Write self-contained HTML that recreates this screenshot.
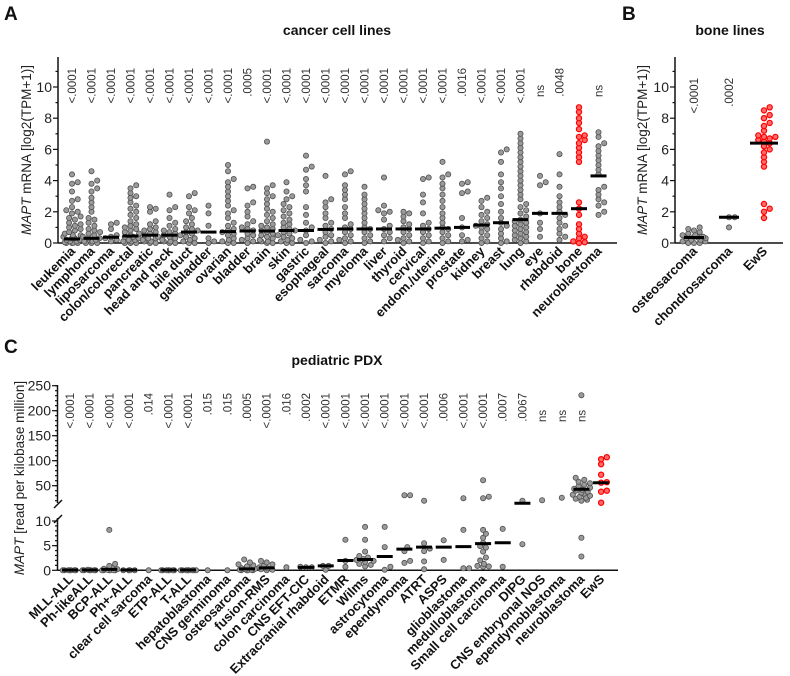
<!DOCTYPE html>
<html><head><meta charset="utf-8"><style>
body{margin:0;background:#fff}
svg{display:block;font-family:"Liberation Sans",sans-serif}
.tk{font-size:14px;fill:#222}
.cat{font-size:13px;font-weight:bold;fill:#111}
.pv{font-size:11.5px;fill:#333}
.ttl{font-size:14px;font-weight:bold;fill:#111}
.let{font-size:19px;font-weight:bold;fill:#111}
.yt{font-size:13.5px;fill:#222}
</style></head><body>
<svg id="chart" width="790" height="676" viewBox="0 0 790 676">
<text class="let" x="4" y="20">A</text>
<text class="let" x="622" y="20">B</text>
<text class="let" x="4" y="353">C</text>
<text class="ttl" x="337" y="35" text-anchor="middle">cancer cell lines</text>
<text class="ttl" x="730" y="35" text-anchor="middle">bone lines</text>
<text class="ttl" x="337" y="365" text-anchor="middle">pediatric PDX</text>
<text class="yt" transform="translate(31,150) rotate(-90)" text-anchor="middle"><tspan font-style="italic">MAPT</tspan> mRNA [log2(TPM+1)]</text>
<text class="yt" transform="translate(647,150) rotate(-90)" text-anchor="middle"><tspan font-style="italic">MAPT</tspan> mRNA [log2(TPM+1)]</text>
<text class="yt" transform="translate(24,478) rotate(-90)" text-anchor="middle"><tspan font-style="italic">MAPT</tspan> [read per kilobase million]</text>
<g id="layer"></g>
</svg>
<script>
// ---------- Panel A data ----------
const catsA = ["leukemia","lymphoma","liposarcoma","colon/colorectal","pancreatic","head and neck","bile duct","gallbladder","ovarian","bladder","brain","skin","gastric","esophageal","sarcoma","myeloma","liver","thyroid","cervical","endom./uterine","prostate","kidney","breast","lung","eye","rhabdoid","bone","neuroblastoma"];
const pA = ["<.0001","<.0001","<.0001","<.0001","<.0001","<.0001","<.0001","<.0001","<.0001",".0005","<.0001","<.0001","<.0001","<.0001","<.0001","<.0001","<.0001","<.0001","<.0001","<.0001",".0016","<.0001","<.0001","<.0001","ns",".0048","",  "ns"];
const medA = [0.26,0.3,0.37,0.45,0.5,0.5,0.7,0.7,0.73,0.77,0.77,0.8,0.8,0.87,0.9,0.9,0.9,0.9,0.9,0.95,1.0,1.15,1.3,1.5,1.9,1.9,2.2,4.3];
const valsA = [
[4.4,3.9,3.8,3.3,2.8,2.7,2.3,2.1,2.0,1.9,1.7,1.6,1.5,1.3,1.2,1.1,1.0,0.9,0.8,0.7,0.6,0.5,0.5,0.4,0.3,0.3,0.2,0.2,0.1,0.1,0.05,0,0,0,0],
[4.6,4.0,3.8,3.5,3.3,2.9,2.6,2.3,2.0,1.6,1.5,1.3,1.1,0.9,0.8,0.7,0.6,0.5,0.4,0.3,0.3,0.2,0.1,0.1,0,0,0],
[1.3,1.2,0.9,0.5,0.4,0.3,0.2,0.1],
[3.7,3.5,3.2,3.0,2.9,2.6,2.4,2.2,2.0,1.8,1.6,1.4,1.2,1.1,1.0,0.9,0.8,0.7,0.6,0.5,0.4,0.4,0.3,0.2,0.2,0.1,0.1,0,0,0],
[2.3,2.2,2.0,1.4,1.2,1.0,0.9,0.8,0.7,0.6,0.5,0.4,0.3,0.3,0.2,0.1,0.1,0,0],
[3.1,2.3,2.1,1.6,1.3,1.1,0.9,0.8,0.7,0.6,0.5,0.4,0.3,0.2,0.1,0.1,0,0],
[3.2,3.0,2.3,2.1,1.9,1.6,1.4,1.2,1.0,0.9,0.8,0.7,0.6,0.5,0.4,0.3,0.2,0.1,0,0],
[2.4,1.9,1.1,0.3,0.1,0],
[5.0,4.6,4.1,3.9,3.6,3.3,3.0,2.7,2.4,2.1,1.9,1.6,1.3,1.1,0.9,0.8,0.7,0.6,0.5,0.3,0.2,0.1,0,0],
[3.6,3.5,2.6,2.4,2.0,1.7,1.4,1.2,1.0,0.9,0.8,0.6,0.5,0.3,0.2,0.1,0],
[6.5,3.7,3.5,3.2,3.0,2.8,2.5,2.2,2.0,1.8,1.6,1.4,1.2,1.1,1.0,0.9,0.8,0.7,0.6,0.5,0.4,0.3,0.2,0.1,0.1,0,0],
[3.9,3.3,3.0,2.8,2.5,2.3,2.1,1.9,1.7,1.5,1.3,1.2,1.0,0.9,0.8,0.7,0.6,0.5,0.4,0.3,0.2,0.1,0,0],
[5.6,4.9,4.7,4.1,3.7,3.3,2.3,1.8,1.3,1.0,0.8,0.5,0.2,0.1,0],
[4.3,2.8,2.6,2.3,1.9,1.6,1.3,1.1,0.9,0.7,0.5,0.4,0.2,0.1,0],
[4.6,4.4,3.7,3.4,3.1,2.8,2.3,1.9,1.6,1.2,1.0,0.9,0.7,0.5,0.3,0.2,0.1,0],
[3.6,3.1,2.8,2.5,2.2,1.9,1.6,1.3,1.0,0.9,0.7,0.5,0.3,0.1,0],
[4.2,2.4,2.1,2.0,1.9,1.5,1.1,0.9,0.7,0.5,0.3,0.1],
[2.0,1.9,1.7,1.4,1.2,1.0,0.9,0.7,0.5,0.3,0.2,0.1,0],
[4.2,4.1,3.1,2.6,1.9,1.3,1.1,0.9,0.7,0.5,0.3,0.1,0],
[5.2,4.4,4.2,3.8,3.5,3.1,2.7,2.3,1.9,1.6,1.3,1.0,0.9,0.7,0.5,0.3,0.1,0],
[3.9,3.8,3.3,3.2,1.6,1.0,0.5,0.2,0.1],
[2.9,2.7,2.3,2.0,1.8,1.6,1.4,1.2,1.1,1.0,0.9,0.7,0.5,0.3,0.1,0],
[6.0,5.8,5.2,4.4,3.9,3.5,3.0,2.5,2.0,1.6,1.3,1.1,0.9,0.6,0.3,0.1,0],
[7.0,6.7,6.4,6.1,5.8,5.5,5.2,4.9,4.6,4.3,4.0,3.7,3.4,3.1,2.8,2.5,2.3,2.1,1.9,1.7,1.5,1.4,1.3,1.2,1.1,1.0,0.9,0.8,0.7,0.6,0.5,0.4,0.3,0.2,0.1,0],
[4.3,3.9,3.7,1.9,1.3,0.9,0.4],
[5.7,4.4,3.6,3.0,2.6,2.3,2.0,1.8,1.6,1.3,1.1,0.9,0.6,0.4,0.2],
[8.7,8.4,8.0,7.7,7.3,6.9,6.8,6.6,6.4,6.1,5.8,5.5,5.2,2.6,2.2,1.8,1.2,0.9,0.6,0.4,0.3,0.1,0.05,0],
[7.1,6.8,6.4,6.2,5.9,5.6,5.3,5.0,4.7,4.4,3.6,3.4,3.1,2.8,2.6,2.4,2.0,1.8]
];
// ---------- Panel B data ----------
const catsB = ["osteosarcoma","chondrosarcoma","EwS"];
const pB = ["<.0001",".0002",""];
const medB = [0.35,1.65,6.4];
const valsB = [
[1.0,0.9,0.8,0.7,0.6,0.5,0.5,0.4,0.4,0.35,0.3,0.3,0.2,0.2,0.1,0.1,0,0,0],
[1.65,1.65,1.0],
[8.7,8.5,8.2,8.0,7.7,7.5,7.2,6.9,6.8,6.8,6.7,6.6,6.5,6.4,6.2,6.0,5.8,5.5,5.2,4.9,2.5,2.2,2.0,1.6]
];
// ---------- Panel C data ----------
const catsC = ["MLL-ALL","Ph-likeALL","BCP-ALL","Ph+-ALL","clear cell sarcoma","ETP-ALL","T-ALL","hepatoblastoma","CNS germinoma","osteosarcoma","fusion-RMS","colon carcinoma","CNS EFT-CIC","Extracranial rhabdoid","ETMR","Wilms","astrocytoma","ependymoma","ATRT","ASPS","glioblastoma","medulloblastoma","Small cell carcinoma","DIPG","CNS embryonal NOS","ependymoblastoma","neuroblastoma","EwS"];
const pC = ["<.0001","<.0001","<.0001","<.0001",".014","<.0001","<.0001",".015",".015",".0005","<.0001",".016",".0002","<.0001","<.0001","<.0001","<.0001","<.0001","<.0001",".0006","<.0001","<.0001",".0007",".0067","ns","ns","ns",""];
const medC = [0.05,0.05,0.2,0.05,null,0.05,0.05,null,null,0.3,0.5,null,0.6,0.9,2.0,2.2,2.8,4.3,4.7,4.7,4.8,5.4,5.6,15,null,null,43,56];
const valsC = [
[0,0,0,0,0,0,0],
[0,0,0,0,0,0,0.1],
[8.2,1.3,0.9,0.5,0.3,0.2,0.1,0,0,0,0,0,0],
[0,0,0,0],
[0],
[0,0,0,0,0,0,0],
[0,0,0,0,0,0,0,0],
[0],
[0],
[2.2,1.6,1.2,1.0,0.8,0.6,0.4,0.3,0.2,0.1,0.1,0,0,0,0],
[1.9,1.6,1.2,0.9,0.6,0.4,0.2,0.1,0],
[0.6],
[0.7,0.6,0.6],
[0.9,0.9,0.1],
[6.2,1.9,0.7],
[8.8,6.2,3.8,2.9,2.6,2.3,2.1,1.9,1.7,1.3,1.1,0.8],
[8.8,4.7,0.7,0.1],
[31,31,4.7,3.9,1.9,1.5],
[20,5.5,4.4,3.9,1.8,0.2],
[6.1,2.1],
[25,8.2,0.4,0.4],
[61,28,25,8.2,7.4,6.6,5.6,4.9,4.6,3.8,2.6,2.0,1.3,0.9,0.8,0.7],
[8.4,0.7],
[20,5.3],
[21],
[26],
[231,66,62,58,55,52,49,46,44,42,40,38,36,34,32,30,28,26,24,22,20,6.6,2.8],
[107,103,93,72,57,56,40,38,16]
];
const redA = 26, redC = 27;

const layer = document.getElementById('layer');
const NS = 'http://www.w3.org/2000/svg';
function mk(tag, attrs, parent){const e=document.createElementNS(NS,tag);for(const k in attrs)e.setAttribute(k,attrs[k]);(parent||layer).appendChild(e);return e;}

// scales
const yA = v => 243 - v*15.6;
const xA = i => 72 + i*19.5;
const xB = i => 694 + i*35;
const yC = v => v<=10 ? 570.3 - v*4.93 : 385.7 + (250-v)*0.5;
const xC = i => 70 + i*19.67;

function swarm(vals, cx, ys, maxOff, red, name){
  const placed=[]; const r=2.6, d=5.2;
  const sorted=vals.slice().sort((a,b)=>a-b);
  sorted.forEach(v=>{
    const y=ys(v); let x=cx, k=0, found=false;
    for(k=0;k<40;k++){
      const off = (k===0?0:Math.ceil(k/2)*d*0.55*(k%2?1:-1));
      if(Math.abs(off)>maxOff) break;
      const ok = placed.every(p=>Math.hypot(p[0]-(cx+off),p[1]-y)>=d*0.85);
      if(ok){x=cx+off;found=true;break;}
    }
    if(!found){x=cx+(placed.length%2?1:-1)*maxOff*((placed.length*7)%10)/10;}
    placed.push([x,y]);
    const c=mk('circle',{cx:x.toFixed(1),cy:y.toFixed(1),r:r,fill:red?'#ff6b6b':'#9a9a9a',stroke:red?'#f00':'#505050','stroke-width':red?1.2:0.8});
    
    
  });
}
function median(cx, y, hw, name){
  const l=mk('line',{x1:cx-hw,x2:cx+hw,y1:y,y2:y,stroke:'#000','stroke-width':3});
  
  
}
function pval(txt, x, y, anchorEnd, name){
  if(!txt) return;
  const t=mk('text',{class:'pv',transform:`translate(${x+4},${y}) rotate(-90)`,'text-anchor':anchorEnd});
  t.textContent=txt;
  
  
}
function catLabel(txt, x, y, name){
  const t=mk('text',{class:'cat',transform:`translate(${x+4},${y}) rotate(-45)`,'text-anchor':'end'});
  t.textContent=txt;
  
  
}
function tick(x1,y,x2,lab,name){
  mk('line',{x1:x1,x2:x2,y1:y,y2:y,stroke:'#111','stroke-width':1.2});
  if(lab!==null){const t=mk('text',{class:'tk',x:x1-1,y:y+5,'text-anchor':'end'});t.textContent=lab;
  
  }
}
function slug(s){return s.toLowerCase().replace(/[^a-z0-9]+/g,'-').replace(/^-|-$/g,'');}

// ---- Panel A axes
const ticksA=[0,2,4,6,8,10];
mk('line',{x1:58,x2:58,y1:57,y2:243.5,stroke:'#111','stroke-width':1.5});
mk('line',{x1:58,x2:617,y1:243,y2:243,stroke:'#111','stroke-width':1.5});
ticksA.forEach(v=>tick(53,yA(v),58,String(v),'panel-a-y-tick'));
for(let v=1;v<=11;v+=2) tick(55.5,yA(v),58,null);
catsA.forEach((c,i)=>{
  swarm(valsA[i], xA(i), yA, 9, i===redA, 'a-'+slug(c));
  median(xA(i), yA(medA[i]), 8, 'a-'+slug(c));
  if(pA[i]) pval(pA[i], xA(i), pA[i]==='ns'?97:68, pA[i]==='ns'?'start':'end', 'a-'+slug(c));
  catLabel(c, xA(i), 252, 'a-'+slug(c));
});
// ---- Panel B axes
mk('line',{x1:675,x2:675,y1:57,y2:243.5,stroke:'#111','stroke-width':1.5});
mk('line',{x1:675,x2:783,y1:243,y2:243,stroke:'#111','stroke-width':1.5});
ticksA.forEach(v=>tick(670,yA(v),675,String(v),'panel-b-y-tick'));
for(let v=1;v<=11;v+=2) tick(672.5,yA(v),675,null);
catsB.forEach((c,i)=>{
  swarm(valsB[i], xB(i), yA, 13, i===2, 'b-'+slug(c));
  median(xB(i), yA(medB[i]), i===2?14:10, 'b-'+slug(c));
  if(pB[i]) pval(pB[i], xB(i), 78, 'end', 'b-'+slug(c));
  catLabel(c, xB(i), 252, 'b-'+slug(c));
});
// ---- Panel C axes
mk('line',{x1:57.5,x2:57.5,y1:385,y2:503,stroke:'#111','stroke-width':1.5});
mk('line',{x1:57.5,x2:57.5,y1:518,y2:570.5,stroke:'#111','stroke-width':1.5});
mk('line',{x1:54,x2:62,y1:508,y2:500,stroke:'#111','stroke-width':1.5});
mk('line',{x1:54,x2:62,y1:523,y2:515,stroke:'#111','stroke-width':1.5});
mk('line',{x1:57.5,x2:618,y1:570.3,y2:570.3,stroke:'#111','stroke-width':1.5});
const ticksCu=[50,100,150,200,250], ticksCl=[0,5,10];
ticksCu.forEach(v=>tick(52,yC(v),57.5,String(v),'panel-c-y-tick'));
for(let v=20;v<=250;v+=10) tick(55,yC(v),57.5,null);
ticksCl.forEach(v=>tick(52,yC(v),57.5,String(v),'panel-c-y-tick'));
for(let v=1;v<10;v++) tick(55,yC(v),57.5,null);
catsC.forEach((c,i)=>{
  swarm(valsC[i], xC(i), yC, 9, i===redC, 'c-'+slug(c));
  if(medC[i]!==null) median(xC(i), yC(medC[i]), 8, 'c-'+slug(c));
  if(pC[i]) pval(pC[i], xC(i), pC[i]==='ns'?422:393, pC[i]==='ns'?'start':'end', 'c-'+slug(c));
  catLabel(c, xC(i), 580, 'c-'+slug(c));
});
</script>
</body></html>
